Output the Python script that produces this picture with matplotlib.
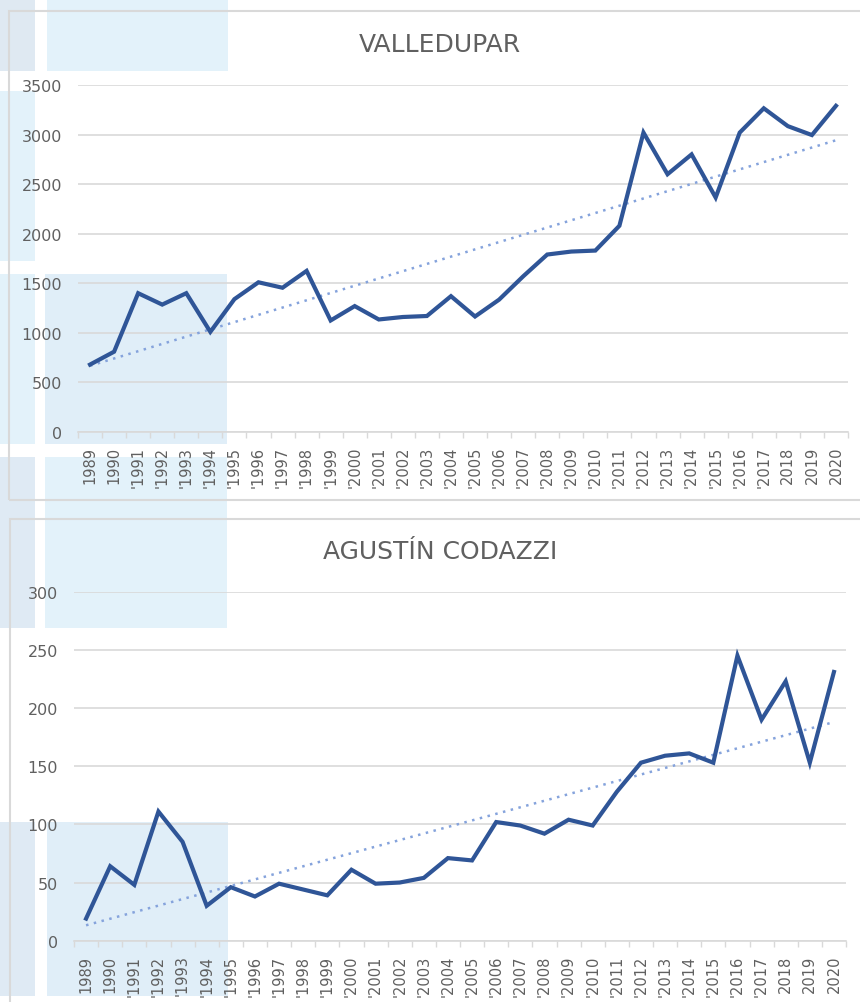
import numpy as np
import matplotlib
matplotlib.use("Agg")
import matplotlib.pyplot as plt
from matplotlib.patches import Rectangle

# datos
etiquetas = ["1989", "1990", "'1991", "'1992", "'1993", "'1994", "'1995", "'1996",
             "'1997", "'1998", "'1999", "'2000", "'2001", "'2002", "'2003", "'2004",
             "'2005", "'2006", "'2007", "'2008", "'2009", "'2010", "'2011", "'2012",
             "'2013", "'2014", "'2015", "'2016", "'2017", "2018", "2019", "2020"]

valledupar = [680, 810, 1400, 1285, 1400, 1010, 1340, 1510, 1455, 1625, 1125, 1270,
              1135, 1160, 1170, 1370, 1165, 1335, 1570, 1790, 1820, 1830, 2080, 3020,
              2600, 2800, 2365, 3020, 3265, 3085, 2995, 3290]

codazzi = [19, 64, 48, 111, 85, 30, 46, 38, 49, 44, 39, 61, 49, 50, 54, 71, 69, 102,
           99, 92, 104, 99, 128, 153, 159, 161, 153, 245, 190, 223, 153, 231]

titulos = ["VALLEDUPAR", "AGUSTÍN CODAZZI"]
ymax = [3500, 300]
ypaso = [500, 50]

W, H = 860, 1003
fig = plt.figure(figsize=(W / 100, H / 100), dpi=100)
plt.rcParams['font.family'] = ['DejaVu Sans']

gris = '#606060'
linea = '#d9d9d9'
azul = '#2f5597'
azul_t = '#85a3dc'


def px(x0, y0, x1, y1):
    # rectangulo en pixeles -> coordenadas de figura
    return (x0 / W, 1 - y1 / H), (x1 - x0) / W, (y1 - y0) / H


# rectangulos celestes del fondo (documento original)
fondo = [
    (0, 0, 35, 72, '#dfe9f2'), (47, 0, 228, 72, '#e3f2fa'),
    (0, 92, 35, 262, '#e3f2fa'),
    (0, 275, 35, 445, '#e3f2fa'), (45, 275, 227, 445, '#e0eef8'),
    (0, 458, 35, 629, '#dfeaf4'), (45, 458, 227, 629, '#e3f2fa'),
    (0, 823, 35, 997, '#dfeaf4'), (47, 823, 228, 997, '#e0eef8'),
]
for x0, y0, x1, y1, c in fondo:
    xy, w, h = px(x0, y0, x1, y1)
    fig.patches.append(Rectangle(xy, w, h, transform=fig.transFigure,
                                 facecolor=c, edgecolor='none', zorder=0))

# marcos de los graficos
for x0, y0, x1, y1 in [(9, 12, 870, 501), (10, 520, 870, 1015)]:
    xy, w, h = px(x0, y0, x1, y1)
    fig.patches.append(Rectangle(xy, w, h, transform=fig.transFigure,
                                 fill=False, edgecolor=linea, linewidth=1.5, zorder=1))

posiciones = [(78, 86, 848, 433), (74, 592.7, 846, 941.7)]
titulo_y = [45, 552]
series = [valledupar, codazzi]

for i in range(2):
    x0, y0, x1, y1 = posiciones[i]
    xy, w, h = px(x0, y0, x1, y1)
    ax = fig.add_axes([xy[0], xy[1], w, h])
    ax.set_facecolor('none')
    ax.set_zorder(2)

    x = np.arange(len(etiquetas))
    y = np.array(series[i])
    ax.plot(x, y, color=azul, linewidth=3, solid_joinstyle='miter', zorder=3)
    # linea de tendencia lineal
    m, b = np.polyfit(x, y, 1)
    ax.plot(x, m * x + b, color=azul_t, linewidth=1.8, linestyle=(0, (1, 2.2)), zorder=2)

    ax.set_xlim(-0.5, len(etiquetas) - 0.5)
    ax.set_ylim(0, ymax[i])
    ax.set_yticks(np.arange(0, ymax[i] + 1, ypaso[i]))
    ax.set_xticks(x)
    ax.set_xticklabels(etiquetas, rotation=90)
    ax.set_xticks(np.arange(-0.5, len(etiquetas), 1), minor=True)
    ax.tick_params(axis='x', which='major', length=0, pad=10, labelsize=10.5, labelcolor=gris)
    ax.tick_params(axis='x', which='minor', length=4, width=1, color=linea, direction='out')
    ax.tick_params(axis='y', length=0, pad=11.5, labelsize=11.5, labelcolor=gris)
    ax.grid(axis='y', color=linea, linewidth=1.2)
    ax.set_axisbelow(True)
    for s in ['top', 'right', 'left']:
        ax.spines[s].set_visible(False)
    ax.spines['bottom'].set_color(linea)
    ax.spines['bottom'].set_linewidth(1.2)

    fig.text(440 / W, 1 - titulo_y[i] / H, titulos[i], ha='center', va='center',
             fontsize=18, color=gris)

fig.savefig('out.png', dpi=100)
